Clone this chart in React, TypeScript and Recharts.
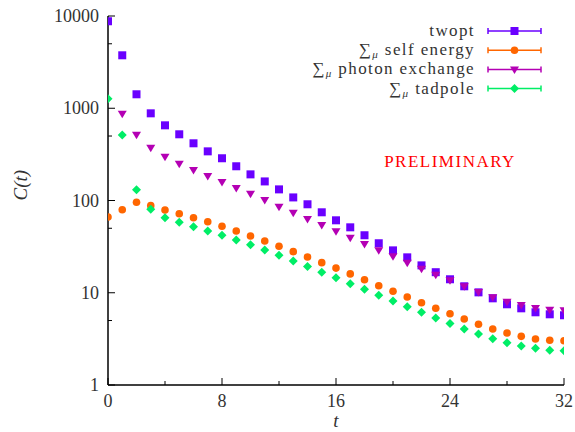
import React from "react";
import {
  ScatterChart,
  Scatter,
  XAxis,
  YAxis,
  ReferenceDot,
} from "recharts";

const times = Array.from({ length: 33 }, (_, i) => i);

const twopt = [
  8770, 3750, 1417, 881, 653, 522, 417, 341, 287, 235, 192, 161, 132, 108, 91, 74.5,
  61, 51.2, 42, 34.4, 28.8, 24.2, 19.8, 16.7, 14.0, 11.75, 10.1, 8.7, 7.5, 6.78, 6.14, 5.84, 5.7,
];
const selfEnergy = [
  66.3, 79.5, 95.7, 87.9, 78.9, 71.9, 65.1, 58.9, 52.6, 46.7, 41.2, 36.4, 31.9, 27.9, 24.4, 21.2,
  18.5, 16.0, 13.85, 11.9, 10.4, 9.0, 7.8, 6.78, 5.91, 5.19, 4.55, 4.05, 3.66, 3.37, 3.15, 3.05, 3.02,
];
const photonExchange = [
  null, 873, 517, 374, 298, 251, 214, 184, 159, 137, 118, 101, 85.7, 73.8, 63, 54.2,
  46.4, 39.5, 33.8, 28.8, 24.8, 21.2, 18.2, 15.7, 13.7, 11.75, 10.2, 8.93, 8.0, 7.37, 6.84, 6.55, 6.45,
];
const tadpole = [
  1270, 513, 131, 80.3, 65.1, 58, 52, 46.7, 42, 37.3, 33.2, 29.1, 25.5, 22.1, 19.2, 16.7,
  14.5, 12.5, 10.9, 9.4, 8.14, 7.06, 6.14, 5.33, 4.64, 4.05, 3.57, 3.18, 2.87, 2.65, 2.5, 2.38, 2.35,
];

const xTicks = [0, 4, 8, 12, 16, 20, 24, 28, 32];
const xLabels = [0, 8, 16, 24, 32];
const yTicks = [1, 5, 10, 50, 100, 500, 1000, 5000, 10000];
const yLabels = [1, 10, 100, 1000, 10000];

const FONT = "Liberation Serif, DejaVu Serif, serif";

const toPoints = (vals: (number | null)[]) =>
  times
    .map((t, i) => ({ t, v: vals[i] }))
    .filter((p) => p.v !== null && p.v !== undefined);

const series = [
  { key: "twopt", label: "twopt", sigma: false, color: "#6a00ff", shape: "square", data: toPoints(twopt) },
  { key: "self", label: "self energy", sigma: true, color: "#ff6600", shape: "circle", data: toPoints(selfEnergy) },
  { key: "photon", label: "photon exchange", sigma: true, color: "#b400b4", shape: "triangle", data: toPoints(photonExchange) },
  { key: "tad", label: "tadpole", sigma: true, color: "#00ee66", shape: "diamond", data: toPoints(tadpole) },
];

function Marker({ shape, cx, cy, color }: any) {
  if (cx == null || cy == null) return null;
  if (shape === "square") return <rect x={cx - 4} y={cy - 4} width={8} height={8} fill={color} />;
  if (shape === "circle") return <circle cx={cx} cy={cy} r={3.8} fill={color} />;
  if (shape === "triangle")
    return <polygon points={`${cx - 4.5},${cy - 3} ${cx + 4.5},${cy - 3} ${cx},${cy + 4.5}`} fill={color} />;
  return <polygon points={`${cx},${cy - 4.5} ${cx + 4.5},${cy} ${cx},${cy + 4.5} ${cx - 4.5},${cy}`} fill={color} />;
}

function XTick({ x, y, payload }: any) {
  const major = xLabels.includes(payload.value);
  return (
    <g>
      <line x1={x} x2={x} y1={y} y2={y - (major ? 7 : 4)} stroke="#000" strokeWidth={1} />
      {major && (
        <text x={x} y={y + 22} textAnchor="middle" fontFamily={FONT} fontSize={18} fill="#333">
          {payload.value}
        </text>
      )}
    </g>
  );
}

function YTick({ x, y, payload }: any) {
  const major = yLabels.includes(payload.value);
  return (
    <g>
      <line x1={x} x2={x + (major ? 7 : 4)} y1={y} y2={y} stroke="#000" strokeWidth={1} />
      {major && (
        <text x={x - 9} y={y + 6} textAnchor="end" fontFamily={FONT} fontSize={18} fill="#333">
          {payload.value}
        </text>
      )}
    </g>
  );
}

function LegendBox() {
  return (
    <svg width={300} height={84} style={{ display: "block" }}>
      {series.map((s, i) => {
        const y = 12 + i * 19.2;
        return (
          <g key={s.key}>
            <text x={187} y={y + 5} textAnchor="end" fontFamily={FONT} fontSize={17} fill="#333" letterSpacing={1.4}>
              {s.sigma && (
                <>
                  <tspan>∑</tspan>
                  <tspan fontSize={11} dy={3} fontStyle="italic">μ</tspan>
                  <tspan dy={-3}> </tspan>
                </>
              )}
              {s.label}
            </text>
            <line x1={200} x2={253} y1={y} y2={y} stroke={s.color} strokeWidth={1.5} />
            <line x1={200} x2={200} y1={y - 3} y2={y + 3} stroke={s.color} strokeWidth={1.5} />
            <line x1={253} x2={253} y1={y - 3} y2={y + 3} stroke={s.color} strokeWidth={1.5} />
            <Marker shape={s.shape} cx={226.5} cy={y} color={s.color} />
          </g>
        );
      })}
    </svg>
  );
}

export default function App() {
  return (
    <div style={{ position: "absolute", left: 0, top: 0, width: 575, height: 432, background: "#fff" }}>
      <ScatterChart width={575} height={432} margin={{ top: 16, right: 11, left: 0, bottom: 0 }}>
        <XAxis
          dataKey="t"
          type="number"
          domain={[0, 32]}
          ticks={xTicks}
          interval={0}
          tick={<XTick />}
          tickSize={0}
          tickMargin={0}
          height={47}
          axisLine={{ stroke: "#000", strokeWidth: 1.5 }}
          tickLine={false}
          allowDataOverflow
          label={{ value: "t", position: "insideBottom", offset: 5, fontFamily: FONT, fontSize: 19, fontStyle: "italic", fill: "#333" }}
        />
        <XAxis xAxisId="top" orientation="top" type="number" domain={[0, 32]} height={0} tick={false} tickLine={false} axisLine={{ stroke: "#333", strokeWidth: 2 }} />
        <YAxis
          dataKey="v"
          type="number"
          scale="log"
          domain={[1, 10000]}
          ticks={yTicks}
          interval={0}
          tick={<YTick />}
          tickSize={0}
          tickMargin={0}
          width={108}
          axisLine={{ stroke: "#000", strokeWidth: 1.5 }}
          tickLine={false}
          allowDataOverflow
          label={{ value: "C(t)", angle: -90, position: "insideLeft", offset: 20, fontFamily: FONT, fontSize: 19, fontStyle: "italic", fill: "#333" }}
        />
        <YAxis yAxisId="right" orientation="right" type="number" scale="log" domain={[1, 10000]} width={0} tick={false} tickLine={false} axisLine={{ stroke: "#000", strokeWidth: 1.2 }} />
        {series.map((s) => (
          <Scatter
            key={s.key}
            name={s.label}
            data={s.data}
            isAnimationActive={false}
            shape={(p: any) => <Marker shape={s.shape} cx={p.cx} cy={p.cy} color={s.color} />}
          />
        ))}
        <ReferenceDot
          x={24}
          y={268}
          r={0}
          fill="none"
          stroke="none"
          label={{ value: "PRELIMINARY", position: "center", fill: "#ff0000", fontFamily: FONT, fontSize: 17, letterSpacing: 1.5 }}
        />
      </ScatterChart>
      <div style={{ position: "absolute", left: 288, top: 19 }}>
        <LegendBox />
      </div>
    </div>
  );
}
